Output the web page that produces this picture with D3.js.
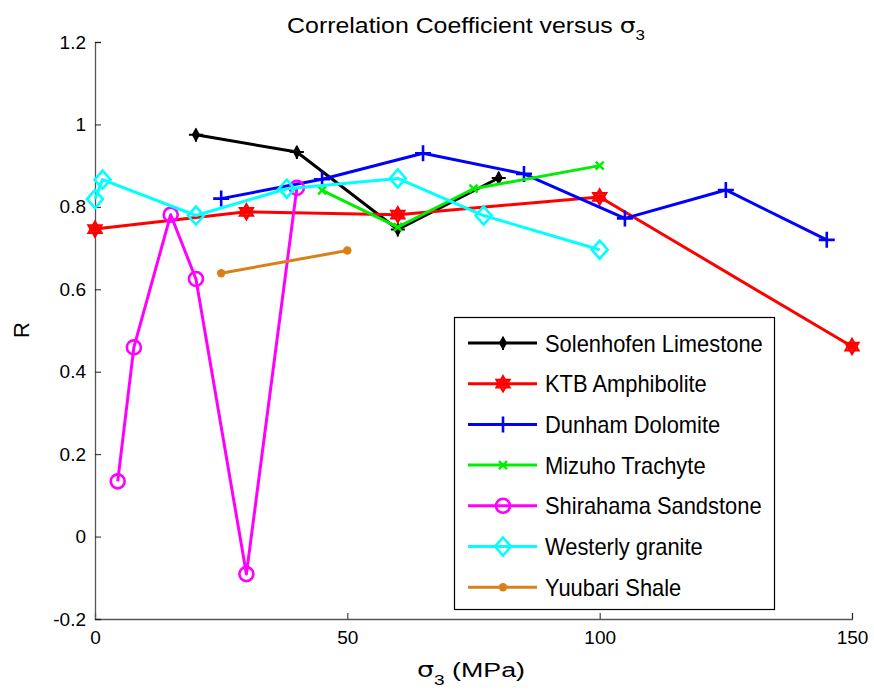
<!DOCTYPE html>
<html>
<head>
<meta charset="utf-8">
<script src="https://cdn.jsdelivr.net/npm/d3@7"></script>
<style>
  html, body { margin: 0; padding: 0; background: #fff; }
  svg text { font-family: "Liberation Sans", Arial, sans-serif; fill: #000; }
</style>
</head>
<body>
<svg id="chart" width="874" height="692"></svg>
<script>
// Confining pressure (MPa) and correlation coefficient for each rock
const solenhofenX = [20, 40, 60, 80];
const solenhofenR = [0.975, 0.933, 0.745, 0.870];
const ktbX = [0, 30, 60, 100, 150];
const ktbR = [0.746, 0.788, 0.781, 0.824, 0.461];
const dunhamX = [25, 45, 65, 85, 105, 125, 145];
const dunhamR = [0.820, 0.867, 0.930, 0.880, 0.772, 0.841, 0.720];
const mizuhoX = [45, 60, 75, 100];
const mizuhoR = [0.840, 0.751, 0.844, 0.900];
const shirahamaX = [4.5, 7.7, 15, 20, 30, 40];
const shirahamaR = [0.134, 0.459, 0.781, 0.625, -0.091, 0.846];
const westerlyX = [0, 1.5, 20, 38, 60, 77, 100];
const westerlyR = [0.819, 0.866, 0.779, 0.844, 0.869, 0.779, 0.696];
const yuubariX = [25, 50];
const yuubariR = [0.639, 0.694];

const seriesNames = ["Solenhofen Limestone", "KTB Amphibolite", "Dunham Dolomite",
  "Mizuho Trachyte", "Shirahama Sandstone", "Westerly granite", "Yuubari Shale"];
const seriesColors = ["#000000", "#ff0000", "#0000ff", "#00ee00", "#ff00ff", "#00ffff", "#d98019"];
const seriesMarkers = ["blob", "hexagram", "plus", "cross", "circle", "diamond", "dot"];
const seriesX = [solenhofenX, ktbX, dunhamX, mizuhoX, shirahamaX, westerlyX, yuubariX];
const seriesR = [solenhofenR, ktbR, dunhamR, mizuhoR, shirahamaR, westerlyR, yuubariR];

const xTicks = [0, 50, 100, 150];
const yTicks = [-0.2, 0, 0.2, 0.4, 0.6, 0.8, 1, 1.2];

const series = seriesNames.map((name, i) => ({
  name, color: seriesColors[i], marker: seriesMarkers[i],
  points: seriesX[i].map((x, j) => ({ x, r: seriesR[i][j] }))
}));

const svg = d3.select("#chart");
const plotLeft = 95, plotRight = 852, plotTop = 42, plotBottom = 619;
const x = d3.scaleLinear().domain([0, 150]).range([plotLeft, plotRight]);
const y = d3.scaleLinear().domain([-0.2, 1.2]).range([plotBottom, plotTop]);

// Axes with inward ticks
const xAxis = d3.axisBottom(x).tickValues(xTicks).tickSize(-6).tickPadding(12).tickFormat(d3.format("d"));
const yAxis = d3.axisLeft(y).tickValues(yTicks).tickSize(-6).tickPadding(9).tickFormat(d => String(+d.toFixed(1)));

const gx = svg.append("g").attr("transform", `translate(0,${plotBottom})`).call(xAxis);
const gy = svg.append("g").attr("transform", `translate(${plotLeft},0)`).call(yAxis);
[gx, gy].forEach(g => {
  g.select(".domain").attr("stroke", "#555").attr("stroke-width", 1.3);
  g.selectAll(".tick line").attr("stroke", "#222").attr("stroke-width", 1);
  g.selectAll(".tick text").attr("font-size", 19).attr("font-family", "Liberation Sans, Arial, sans-serif");
});

// Marker drawing
function drawMarker(g, type, color) {
  switch (type) {
    case "blob":
      g.append("path").attr("d", d3.symbol(d3.symbolDiamond, 60)()).attr("fill", color);
      g.append("path").attr("d", "M-7,0H7M0,-6V7").attr("stroke", color).attr("stroke-width", 2);
      break;
    case "hexagram": {
      const rr = 7.5;
      const tri = a => d3.range(3).map(k => {
        const t = a + k * 2 * Math.PI / 3;
        return [rr * Math.sin(t), -rr * Math.cos(t)];
      });
      g.append("path").attr("d", "M" + tri(0).join("L") + "Z").attr("fill", "none").attr("stroke", color).attr("stroke-width", 2.2);
      g.append("path").attr("d", "M" + tri(Math.PI).join("L") + "Z").attr("fill", "none").attr("stroke", color).attr("stroke-width", 2.2);
      g.append("circle").attr("r", 3).attr("fill", color);
      break;
    }
    case "plus":
      g.append("path").attr("d", "M-8,0H8M0,-8V8").attr("stroke", color).attr("stroke-width", 2.6);
      break;
    case "cross":
      g.append("path").attr("d", "M-4,-4L4,4M-4,4L4,-4").attr("stroke", color).attr("stroke-width", 2.4);
      break;
    case "circle":
      g.append("circle").attr("r", 7).attr("fill", "none").attr("stroke", color).attr("stroke-width", 2.6);
      break;
    case "diamond":
      g.append("path").attr("d", "M0,-9L8,0L0,9L-8,0Z").attr("fill", "none").attr("stroke", color).attr("stroke-width", 2.6);
      break;
    case "dot":
      g.append("circle").attr("r", 4.2).attr("fill", color);
      break;
  }
}

const line = d3.line().x(d => x(d.x)).y(d => y(d.r));
const plot = svg.append("g");
series.forEach(s => {
  const g = plot.append("g");
  g.append("path").datum(s.points).attr("d", line).attr("fill", "none")
    .attr("stroke", s.color).attr("stroke-width", 3).attr("stroke-linejoin", "round");
  s.points.forEach(p => {
    drawMarker(g.append("g").attr("transform", `translate(${x(p.x)},${y(p.r)})`), s.marker, s.color);
  });
});

// Stretch a text block horizontally so it spans the given width around its anchor
function fitWidth(g, cx, baseline, width) {
  const w = g.node().getBBox().width;
  g.attr("transform", `translate(${cx},${baseline}) scale(${width / w},1)`);
}

// Title
const titleG = svg.append("g");
const title = titleG.append("text").attr("text-anchor", "middle").attr("font-size", 22);
title.append("tspan").text("Correlation Coefficient versus ");
title.append("tspan").attr("font-family", "DejaVu Sans").text("σ");
title.append("tspan").attr("font-size", 15).attr("dy", 7).text("3");
fitWidth(titleG, 466, 33, 358);

// X axis label
const xlG = svg.append("g");
const xl = xlG.append("text").attr("text-anchor", "middle").attr("font-size", 21);
xl.append("tspan").attr("font-family", "DejaVu Sans").text("σ");
xl.append("tspan").attr("font-size", 15).attr("dy", 8).text("3");
xl.append("tspan").attr("dy", -8).text(" (MPa)");
fitWidth(xlG, 471, 677, 108);

svg.append("text").attr("transform", "translate(29,330) rotate(-90)").attr("text-anchor", "middle")
  .attr("font-size", 22).text("R");

// Legend
const lg = svg.append("g");
lg.append("rect").attr("x", 454.5).attr("y", 317.5).attr("width", 320).attr("height", 292)
  .attr("fill", "#fff").attr("stroke", "#000").attr("stroke-width", 1.2);
let legendScale = null;
series.forEach((s, i) => {
  const cy = 343 + i * 40.7;
  lg.append("line").attr("x1", 468).attr("x2", 537).attr("y1", cy).attr("y2", cy)
    .attr("stroke", s.color).attr("stroke-width", 3);
  drawMarker(lg.append("g").attr("transform", `translate(503,${cy})`), s.marker, s.color);
  const tg = lg.append("g");
  tg.append("text").attr("font-size", 23).text(s.name);
  if (legendScale === null) legendScale = 218 / tg.node().getBBox().width;
  tg.attr("transform", `translate(545,${cy + 8.5}) scale(${legendScale},1)`);
});
</script>
</body>
</html>
